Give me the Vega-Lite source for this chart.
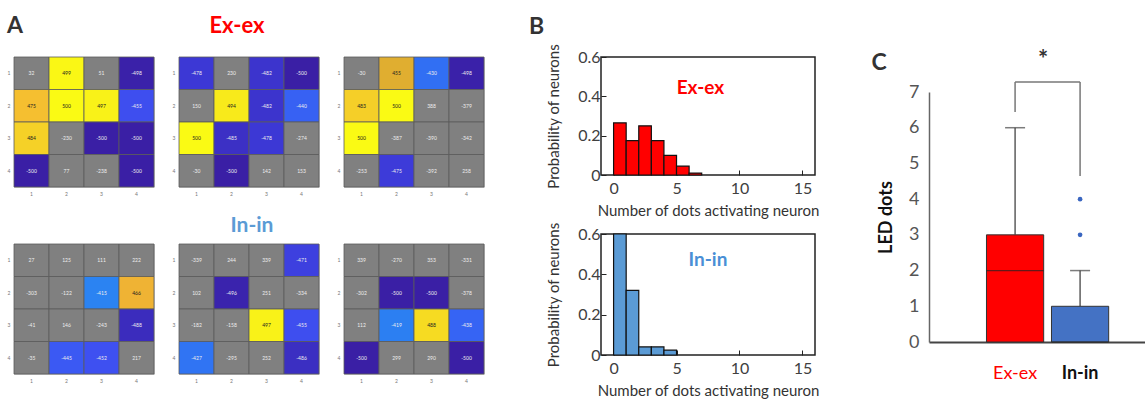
{
  "$schema": "https://vega.github.io/schema/vega-lite/v6.json",
  "padding": {"left": 6, "top": 14, "right": 0, "bottom": 0},
  "config": {"font": "Lato", "view": {"stroke": null}},
  "datasets": {
    "heat": [
      {"m":1,"r":1,"c":1,"v":32},{"m":1,"r":1,"c":2,"v":499},{"m":1,"r":1,"c":3,"v":51},{"m":1,"r":1,"c":4,"v":-498},
      {"m":1,"r":2,"c":1,"v":475},{"m":1,"r":2,"c":2,"v":500},{"m":1,"r":2,"c":3,"v":497},{"m":1,"r":2,"c":4,"v":-455},
      {"m":1,"r":3,"c":1,"v":484},{"m":1,"r":3,"c":2,"v":-230},{"m":1,"r":3,"c":3,"v":-500},{"m":1,"r":3,"c":4,"v":-500},
      {"m":1,"r":4,"c":1,"v":-500},{"m":1,"r":4,"c":2,"v":77},{"m":1,"r":4,"c":3,"v":-238},{"m":1,"r":4,"c":4,"v":-500},
      {"m":2,"r":1,"c":1,"v":-478},{"m":2,"r":1,"c":2,"v":230},{"m":2,"r":1,"c":3,"v":-482},{"m":2,"r":1,"c":4,"v":-500},
      {"m":2,"r":2,"c":1,"v":150},{"m":2,"r":2,"c":2,"v":494},{"m":2,"r":2,"c":3,"v":-482},{"m":2,"r":2,"c":4,"v":-440},
      {"m":2,"r":3,"c":1,"v":500},{"m":2,"r":3,"c":2,"v":-485},{"m":2,"r":3,"c":3,"v":-478},{"m":2,"r":3,"c":4,"v":-274},
      {"m":2,"r":4,"c":1,"v":-30},{"m":2,"r":4,"c":2,"v":-500},{"m":2,"r":4,"c":3,"v":142},{"m":2,"r":4,"c":4,"v":153},
      {"m":3,"r":1,"c":1,"v":-30},{"m":3,"r":1,"c":2,"v":455},{"m":3,"r":1,"c":3,"v":-430},{"m":3,"r":1,"c":4,"v":-498},
      {"m":3,"r":2,"c":1,"v":483},{"m":3,"r":2,"c":2,"v":500},{"m":3,"r":2,"c":3,"v":388},{"m":3,"r":2,"c":4,"v":-379},
      {"m":3,"r":3,"c":1,"v":500},{"m":3,"r":3,"c":2,"v":-387},{"m":3,"r":3,"c":3,"v":-390},{"m":3,"r":3,"c":4,"v":-342},
      {"m":3,"r":4,"c":1,"v":-253},{"m":3,"r":4,"c":2,"v":-475},{"m":3,"r":4,"c":3,"v":-392},{"m":3,"r":4,"c":4,"v":258},
      {"m":4,"r":1,"c":1,"v":27},{"m":4,"r":1,"c":2,"v":125},{"m":4,"r":1,"c":3,"v":111},{"m":4,"r":1,"c":4,"v":222},
      {"m":4,"r":2,"c":1,"v":-303},{"m":4,"r":2,"c":2,"v":-122},{"m":4,"r":2,"c":3,"v":-415},{"m":4,"r":2,"c":4,"v":466},
      {"m":4,"r":3,"c":1,"v":-41},{"m":4,"r":3,"c":2,"v":146},{"m":4,"r":3,"c":3,"v":-243},{"m":4,"r":3,"c":4,"v":-488},
      {"m":4,"r":4,"c":1,"v":-35},{"m":4,"r":4,"c":2,"v":-445},{"m":4,"r":4,"c":3,"v":-452},{"m":4,"r":4,"c":4,"v":217},
      {"m":5,"r":1,"c":1,"v":-339},{"m":5,"r":1,"c":2,"v":244},{"m":5,"r":1,"c":3,"v":339},{"m":5,"r":1,"c":4,"v":-471},
      {"m":5,"r":2,"c":1,"v":102},{"m":5,"r":2,"c":2,"v":-496},{"m":5,"r":2,"c":3,"v":251},{"m":5,"r":2,"c":4,"v":-334},
      {"m":5,"r":3,"c":1,"v":-182},{"m":5,"r":3,"c":2,"v":-158},{"m":5,"r":3,"c":3,"v":497},{"m":5,"r":3,"c":4,"v":-455},
      {"m":5,"r":4,"c":1,"v":-427},{"m":5,"r":4,"c":2,"v":-295},{"m":5,"r":4,"c":3,"v":252},{"m":5,"r":4,"c":4,"v":-486},
      {"m":6,"r":1,"c":1,"v":339},{"m":6,"r":1,"c":2,"v":-270},{"m":6,"r":1,"c":3,"v":353},{"m":6,"r":1,"c":4,"v":-331},
      {"m":6,"r":2,"c":1,"v":-302},{"m":6,"r":2,"c":2,"v":-500},{"m":6,"r":2,"c":3,"v":-500},{"m":6,"r":2,"c":4,"v":-378},
      {"m":6,"r":3,"c":1,"v":112},{"m":6,"r":3,"c":2,"v":-419},{"m":6,"r":3,"c":3,"v":488},{"m":6,"r":3,"c":4,"v":-438},
      {"m":6,"r":4,"c":1,"v":-500},{"m":6,"r":4,"c":2,"v":299},{"m":6,"r":4,"c":3,"v":290},{"m":6,"r":4,"c":4,"v":-500}
    ],
    "histEx": [
      {"b0":0,"b1":1,"p":0.265},{"b0":1,"b1":2,"p":0.175},{"b0":2,"b1":3,"p":0.25},{"b0":3,"b1":4,"p":0.175},
      {"b0":4,"b1":5,"p":0.1},{"b0":5,"b1":6,"p":0.045},{"b0":6,"b1":7,"p":0.01}
    ],
    "histIn": [
      {"b0":0,"b1":1,"p":0.6},{"b0":1,"b1":2,"p":0.32},{"b0":2,"b1":3,"p":0.04},{"b0":3,"b1":4,"p":0.04},{"b0":4,"b1":5,"p":0.024}
    ],
    "box": [
      {"g":"Ex-ex","q1":0,"med":2,"q3":3,"upper":6},
      {"g":"In-in","q1":0,"med":0,"q3":1,"upper":2}
    ],
    "outliers": [{"g":"In-in","v":3},{"g":"In-in","v":4}],
    "bracket": [
      {"g1":"Ex-ex","g2":"In-in","y1":7.28,"y2":7.28},
      {"g1":"Ex-ex","g2":"Ex-ex","y1":6.44,"y2":7.28},
      {"g1":"In-in","g2":"In-in","y1":4.65,"y2":7.28}
    ],
    "sig": [{"g":"Ex-ex","y":7.86,"label":"*"}]
  },
  "spacing": 43,
  "hconcat": [
    {
      "spacing": 17,
      "vconcat": [
        {
          "bounds": "flush",
          "spacing": 25,
          "hconcat": [
            {"title": {"text": "A", "anchor": "start", "fontSize": 23, "fontWeight": "bold", "color": "#333", "offset": 19},
             "width": 140, "height": 130, "view": {"stroke": "#ccc"}, "data": {"name": "heat"}, "transform": [{"filter": "datum.m == 1"}],
             "encoding": {"x": {"field": "c", "type": "ordinal", "axis": {"title": null, "ticks": false, "domain": false, "labelFontSize": 5, "labelColor": "#777", "labelPadding": 4, "labelAngle": 0}},
                          "y": {"field": "r", "type": "ordinal", "axis": {"title": null, "ticks": false, "domain": false, "labelFontSize": 5, "labelColor": "#777", "labelPadding": 4}}},
             "layer": [
               {"mark": {"type": "rect", "stroke": "#5a5a5a", "strokeWidth": 0.8},
                "encoding": {"color": {"field": "v", "type": "quantitative", "legend": null,
                  "scale": {"domain": [-500,-490,-480,-465,-450,-435,-420,-400,-399.9,399.9,400,455,470,485,500], "range": ["#3a1fa5","#3b2ab8","#3c36d2","#3e46e8","#3e52f2","#3468f4","#2c7ef2","#2890f0","#808080","#808080","#c89040","#e0ae30","#f5b535","#f5d326","#fafa14"], "interpolate": "rgb"}}}},
               {"mark": {"type": "text", "fontSize": 5},
                "encoding": {"text": {"field": "v"}, "color": {"condition": {"test": "datum.v > 400", "value": "#222"}, "value": "#eee"}}}
             ]},
            {"title": {"text": "Ex-ex", "fontSize": 22, "fontWeight": "bold", "color": "#ff0000", "offset": 19, "dx": -12},
             "width": 140, "height": 130, "view": {"stroke": "#ccc"}, "data": {"name": "heat"}, "transform": [{"filter": "datum.m == 2"}],
             "encoding": {"x": {"field": "c", "type": "ordinal", "axis": {"title": null, "ticks": false, "domain": false, "labelFontSize": 5, "labelColor": "#777", "labelPadding": 4, "labelAngle": 0}},
                          "y": {"field": "r", "type": "ordinal", "axis": {"title": null, "ticks": false, "domain": false, "labelFontSize": 5, "labelColor": "#777", "labelPadding": 4}}},
             "layer": [
               {"mark": {"type": "rect", "stroke": "#5a5a5a", "strokeWidth": 0.8},
                "encoding": {"color": {"field": "v", "type": "quantitative", "legend": null,
                  "scale": {"domain": [-500,-490,-480,-465,-450,-435,-420,-400,-399.9,399.9,400,455,470,485,500], "range": ["#3a1fa5","#3b2ab8","#3c36d2","#3e46e8","#3e52f2","#3468f4","#2c7ef2","#2890f0","#808080","#808080","#c89040","#e0ae30","#f5b535","#f5d326","#fafa14"], "interpolate": "rgb"}}}},
               {"mark": {"type": "text", "fontSize": 5},
                "encoding": {"text": {"field": "v"}, "color": {"condition": {"test": "datum.v > 400", "value": "#222"}, "value": "#eee"}}}
             ]},
            {"width": 140, "height": 130, "view": {"stroke": "#ccc"}, "data": {"name": "heat"}, "transform": [{"filter": "datum.m == 3"}],
             "encoding": {"x": {"field": "c", "type": "ordinal", "axis": {"title": null, "ticks": false, "domain": false, "labelFontSize": 5, "labelColor": "#777", "labelPadding": 4, "labelAngle": 0}},
                          "y": {"field": "r", "type": "ordinal", "axis": {"title": null, "ticks": false, "domain": false, "labelFontSize": 5, "labelColor": "#777", "labelPadding": 4}}},
             "layer": [
               {"mark": {"type": "rect", "stroke": "#5a5a5a", "strokeWidth": 0.8},
                "encoding": {"color": {"field": "v", "type": "quantitative", "legend": null,
                  "scale": {"domain": [-500,-490,-480,-465,-450,-435,-420,-400,-399.9,399.9,400,455,470,485,500], "range": ["#3a1fa5","#3b2ab8","#3c36d2","#3e46e8","#3e52f2","#3468f4","#2c7ef2","#2890f0","#808080","#808080","#c89040","#e0ae30","#f5b535","#f5d326","#fafa14"], "interpolate": "rgb"}}}},
               {"mark": {"type": "text", "fontSize": 5},
                "encoding": {"text": {"field": "v"}, "color": {"condition": {"test": "datum.v > 400", "value": "#222"}, "value": "#eee"}}}
             ]}
          ]
        },
        {
          "bounds": "flush",
          "spacing": 25,
          "hconcat": [
            {"width": 140, "height": 130, "view": {"stroke": "#ccc"}, "data": {"name": "heat"}, "transform": [{"filter": "datum.m == 4"}],
             "encoding": {"x": {"field": "c", "type": "ordinal", "axis": {"title": null, "ticks": false, "domain": false, "labelFontSize": 5, "labelColor": "#777", "labelPadding": 4, "labelAngle": 0}},
                          "y": {"field": "r", "type": "ordinal", "axis": {"title": null, "ticks": false, "domain": false, "labelFontSize": 5, "labelColor": "#777", "labelPadding": 4}}},
             "layer": [
               {"mark": {"type": "rect", "stroke": "#5a5a5a", "strokeWidth": 0.8},
                "encoding": {"color": {"field": "v", "type": "quantitative", "legend": null,
                  "scale": {"domain": [-500,-490,-480,-465,-450,-435,-420,-400,-399.9,399.9,400,455,470,485,500], "range": ["#3a1fa5","#3b2ab8","#3c36d2","#3e46e8","#3e52f2","#3468f4","#2c7ef2","#2890f0","#808080","#808080","#c89040","#e0ae30","#f5b535","#f5d326","#fafa14"], "interpolate": "rgb"}}}},
               {"mark": {"type": "text", "fontSize": 5},
                "encoding": {"text": {"field": "v"}, "color": {"condition": {"test": "datum.v > 400", "value": "#222"}, "value": "#eee"}}}
             ]},
            {"title": {"text": "In-in", "fontSize": 21, "fontWeight": "bold", "color": "#5b9bd5", "offset": 8, "dx": 3},
             "width": 140, "height": 130, "view": {"stroke": "#ccc"}, "data": {"name": "heat"}, "transform": [{"filter": "datum.m == 5"}],
             "encoding": {"x": {"field": "c", "type": "ordinal", "axis": {"title": null, "ticks": false, "domain": false, "labelFontSize": 5, "labelColor": "#777", "labelPadding": 4, "labelAngle": 0}},
                          "y": {"field": "r", "type": "ordinal", "axis": {"title": null, "ticks": false, "domain": false, "labelFontSize": 5, "labelColor": "#777", "labelPadding": 4}}},
             "layer": [
               {"mark": {"type": "rect", "stroke": "#5a5a5a", "strokeWidth": 0.8},
                "encoding": {"color": {"field": "v", "type": "quantitative", "legend": null,
                  "scale": {"domain": [-500,-490,-480,-465,-450,-435,-420,-400,-399.9,399.9,400,455,470,485,500], "range": ["#3a1fa5","#3b2ab8","#3c36d2","#3e46e8","#3e52f2","#3468f4","#2c7ef2","#2890f0","#808080","#808080","#c89040","#e0ae30","#f5b535","#f5d326","#fafa14"], "interpolate": "rgb"}}}},
               {"mark": {"type": "text", "fontSize": 5},
                "encoding": {"text": {"field": "v"}, "color": {"condition": {"test": "datum.v > 400", "value": "#222"}, "value": "#eee"}}}
             ]},
            {"width": 140, "height": 130, "view": {"stroke": "#ccc"}, "data": {"name": "heat"}, "transform": [{"filter": "datum.m == 6"}],
             "encoding": {"x": {"field": "c", "type": "ordinal", "axis": {"title": null, "ticks": false, "domain": false, "labelFontSize": 5, "labelColor": "#777", "labelPadding": 4, "labelAngle": 0}},
                          "y": {"field": "r", "type": "ordinal", "axis": {"title": null, "ticks": false, "domain": false, "labelFontSize": 5, "labelColor": "#777", "labelPadding": 4}}},
             "layer": [
               {"mark": {"type": "rect", "stroke": "#5a5a5a", "strokeWidth": 0.8},
                "encoding": {"color": {"field": "v", "type": "quantitative", "legend": null,
                  "scale": {"domain": [-500,-490,-480,-465,-450,-435,-420,-400,-399.9,399.9,400,455,470,485,500], "range": ["#3a1fa5","#3b2ab8","#3c36d2","#3e46e8","#3e52f2","#3468f4","#2c7ef2","#2890f0","#808080","#808080","#c89040","#e0ae30","#f5b535","#f5d326","#fafa14"], "interpolate": "rgb"}}}},
               {"mark": {"type": "text", "fontSize": 5},
                "encoding": {"text": {"field": "v"}, "color": {"condition": {"test": "datum.v > 400", "value": "#222"}, "value": "#eee"}}}
             ]}
          ]
        }
      ]
    },
    {
      "spacing": 51,
      "hconcat": [
        {
          "title": {"text": "B", "anchor": "start", "fontSize": 23, "fontWeight": "bold", "color": "#333", "offset": 4, "dx": -17},
          "spacing": 2,
          "vconcat": [
            {
              "width": 214, "height": 118,
              "view": {"stroke": "#222", "strokeWidth": 1.5},
              "layer": [
                {"data": {"name": "histEx"},
                 "mark": {"type": "bar", "fill": "#ff0000", "stroke": "#111", "strokeWidth": 1.2},
                 "encoding": {
                   "x": {"field": "b0", "type": "quantitative", "scale": {"domain": [-1, 16], "nice": false},
                         "axis": {"values": [0, 5, 10, 15], "labelOverlap": false, "title": "Number of dots activating neuron", "titleFontSize": 15, "titleFontWeight": "normal", "titleColor": "#333", "labelFontSize": 16, "labelColor": "#404040", "tickSize": -5, "tickColor": "#222", "domain": false, "grid": false, "labelPadding": 10, "titlePadding": 7}},
                   "x2": {"field": "b1"},
                   "y": {"field": "p", "type": "quantitative", "scale": {"domain": [0, 0.6], "nice": false},
                         "axis": {"values": [0, 0.2, 0.4, 0.6], "labelOverlap": false, "labelExpr": "datum.value == 0 ? '0' : format(datum.value, '.1f')", "title": "Probability of neurons", "titleFontSize": 15, "titleFontWeight": "normal", "titleColor": "#333", "labelFontSize": 16, "labelColor": "#404040", "tickSize": -5, "tickColor": "#222", "domain": false, "grid": false, "labelPadding": 6, "titlePadding": 16}},
                   "y2": {"datum": 0}
                 }},
                {"data": {"values": [{"label": "Ex-ex", "x": 6.9, "y": 0.44}]},
                 "mark": {"type": "text", "fontSize": 19, "fontWeight": "bold", "color": "#ff0000"},
                 "encoding": {
                   "x": {"field": "x", "type": "quantitative",
                         "axis": {"values": [0, 5, 10, 15], "labelOverlap": false, "title": "Number of dots activating neuron", "titleFontSize": 15, "titleFontWeight": "normal", "titleColor": "#333", "labelFontSize": 16, "labelColor": "#404040", "tickSize": -5, "tickColor": "#222", "domain": false, "grid": false, "labelPadding": 10, "titlePadding": 7}},
                   "y": {"field": "y", "type": "quantitative",
                         "axis": {"values": [0, 0.2, 0.4, 0.6], "labelOverlap": false, "labelExpr": "datum.value == 0 ? '0' : format(datum.value, '.1f')", "title": "Probability of neurons", "titleFontSize": 15, "titleFontWeight": "normal", "titleColor": "#333", "labelFontSize": 16, "labelColor": "#404040", "tickSize": -5, "tickColor": "#222", "domain": false, "grid": false, "labelPadding": 6, "titlePadding": 16}},
                   "text": {"field": "label"}}}
              ]
            },
            {
              "width": 214, "height": 121,
              "view": {"stroke": "#222", "strokeWidth": 1.5},
              "layer": [
                {"data": {"name": "histIn"},
                 "mark": {"type": "bar", "fill": "#5b9bd5", "stroke": "#111", "strokeWidth": 1.2},
                 "encoding": {
                   "x": {"field": "b0", "type": "quantitative", "scale": {"domain": [-1, 16], "nice": false},
                         "axis": {"values": [0, 5, 10, 15], "labelOverlap": false, "title": "Number of dots activating neuron", "titleFontSize": 15, "titleFontWeight": "normal", "titleColor": "#333", "labelFontSize": 16, "labelColor": "#404040", "tickSize": -5, "tickColor": "#222", "domain": false, "grid": false, "labelPadding": 10, "titlePadding": 7}},
                   "x2": {"field": "b1"},
                   "y": {"field": "p", "type": "quantitative", "scale": {"domain": [0, 0.6], "nice": false},
                         "axis": {"values": [0, 0.2, 0.4, 0.6], "labelOverlap": false, "labelExpr": "datum.value == 0 ? '0' : format(datum.value, '.1f')", "title": "Probability of neurons", "titleFontSize": 15, "titleFontWeight": "normal", "titleColor": "#333", "labelFontSize": 16, "labelColor": "#404040", "tickSize": -5, "tickColor": "#222", "domain": false, "grid": false, "labelPadding": 6, "titlePadding": 16}},
                   "y2": {"datum": 0}
                 }},
                {"data": {"values": [{"label": "In-in", "x": 7.5, "y": 0.47}]},
                 "mark": {"type": "text", "fontSize": 19, "fontWeight": "bold", "color": "#4a8fd6"},
                 "encoding": {
                   "x": {"field": "x", "type": "quantitative",
                         "axis": {"values": [0, 5, 10, 15], "labelOverlap": false, "title": "Number of dots activating neuron", "titleFontSize": 15, "titleFontWeight": "normal", "titleColor": "#333", "labelFontSize": 16, "labelColor": "#404040", "tickSize": -5, "tickColor": "#222", "domain": false, "grid": false, "labelPadding": 10, "titlePadding": 7}},
                   "y": {"field": "y", "type": "quantitative",
                         "axis": {"values": [0, 0.2, 0.4, 0.6], "labelOverlap": false, "labelExpr": "datum.value == 0 ? '0' : format(datum.value, '.1f')", "title": "Probability of neurons", "titleFontSize": 15, "titleFontWeight": "normal", "titleColor": "#333", "labelFontSize": 16, "labelColor": "#404040", "tickSize": -5, "tickColor": "#222", "domain": false, "grid": false, "labelPadding": 6, "titlePadding": 16}},
                   "text": {"field": "label"}}}
              ]
            }
          ]
        },
        {
          "bounds": "flush",
          "spacing": 0,
          "resolve": {"scale": {"x": "shared"}},
          "vconcat": [
            {
              "width": 218, "height": 35,
              "layer": [
                {"data": {"name": "bracket"},
                 "mark": {"type": "rule", "color": "#777", "strokeWidth": 1.5},
                 "encoding": {"x": {"field": "g1", "type": "nominal", "scale": {"domain": ["Ex-ex", "In-in"], "paddingInner": 0.12, "paddingOuter": 0.737, "align": 0.6}, "axis": null},
                              "x2": {"field": "g2"},
                              "y": {"field": "y1", "type": "quantitative", "scale": {"domain": [7, 7.98], "nice": false, "zero": false}, "axis": null},
                              "y2": {"field": "y2"}}},
                {"data": {"name": "sig"},
                 "mark": {"type": "text", "fontSize": 24, "fontWeight": "bold", "color": "#333", "dx": 28},
                 "encoding": {"x": {"field": "g", "type": "nominal", "axis": null}, "y": {"field": "y", "type": "quantitative", "axis": null}, "text": {"field": "label"}}}
              ]
            },
            {
              "title": {"text": "C", "anchor": "start", "fontSize": 23, "fontWeight": "bold", "color": "#333", "offset": 8, "dx": -6},
              "width": 218, "height": 250,
              "encoding": {
                "x": {"type": "nominal", "scale": {"domain": ["Ex-ex", "In-in"], "paddingInner": 0.12, "paddingOuter": 0.737, "align": 0.6},
                      "axis": {"title": null, "labelAngle": 0, "ticks": false, "domainColor": "#444", "domainWidth": 2, "labelFontSize": 18, "labelPadding": 22,
                               "labelColor": {"condition": {"test": "datum.value == 'Ex-ex'", "value": "#ff0000"}, "value": "#111"},
                               "labelFontWeight": {"condition": {"test": "datum.value == 'In-in'", "value": "bold"}, "value": "normal"}}}
              },
              "layer": [
                {"data": {"name": "box"},
                 "mark": {"type": "rule", "color": "#444", "strokeWidth": 1.3},
                 "encoding": {"x": {"field": "g", "type": "nominal"},
                              "y": {"field": "q3", "type": "quantitative", "scale": {"domain": [0, 7], "nice": false},
                                    "axis": {"values": [0,1,2,3,4,5,6,7], "labelOverlap": false, "ticks": false, "domainColor": "#666", "domainWidth": 1.5, "labelFontSize": 18, "labelColor": "#555", "labelPadding": 10, "title": "LED dots", "titleFontSize": 18, "titleFontWeight": "bold", "titleColor": "#111", "titlePadding": 13, "grid": false}},
                              "y2": {"field": "upper"}}},
                {"data": {"name": "box"},
                 "mark": {"type": "tick", "color": "#444", "thickness": 1.5, "size": 20},
                 "encoding": {"x": {"field": "g", "type": "nominal"},
                              "y": {"field": "upper", "type": "quantitative",
                                    "axis": {"values": [0,1,2,3,4,5,6,7], "labelOverlap": false, "ticks": false, "domainColor": "#666", "domainWidth": 1.5, "labelFontSize": 18, "labelColor": "#555", "labelPadding": 10, "title": "LED dots", "titleFontSize": 18, "titleFontWeight": "bold", "titleColor": "#111", "titlePadding": 13, "grid": false}}}},
                {"data": {"name": "box"},
                 "mark": {"type": "bar", "stroke": "#333", "strokeWidth": 1},
                 "encoding": {"x": {"field": "g", "type": "nominal"},
                              "y": {"field": "q1", "type": "quantitative",
                                    "axis": {"values": [0,1,2,3,4,5,6,7], "labelOverlap": false, "ticks": false, "domainColor": "#666", "domainWidth": 1.5, "labelFontSize": 18, "labelColor": "#555", "labelPadding": 10, "title": "LED dots", "titleFontSize": 18, "titleFontWeight": "bold", "titleColor": "#111", "titlePadding": 13, "grid": false}},
                              "y2": {"field": "q3"},
                              "color": {"field": "g", "type": "nominal", "scale": {"domain": ["Ex-ex", "In-in"], "range": ["#ff0000", "#4472c4"]}, "legend": null}}},
                {"data": {"name": "box"},
                 "mark": {"type": "tick", "color": "#222", "thickness": 1.2, "size": 57},
                 "encoding": {"x": {"field": "g", "type": "nominal"},
                              "y": {"field": "med", "type": "quantitative",
                                    "axis": {"values": [0,1,2,3,4,5,6,7], "labelOverlap": false, "ticks": false, "domainColor": "#666", "domainWidth": 1.5, "labelFontSize": 18, "labelColor": "#555", "labelPadding": 10, "title": "LED dots", "titleFontSize": 18, "titleFontWeight": "bold", "titleColor": "#111", "titlePadding": 13, "grid": false}}}},
                {"data": {"name": "outliers"},
                 "mark": {"type": "point", "filled": true, "size": 22, "color": "#3a66c0", "opacity": 1},
                 "encoding": {"x": {"field": "g", "type": "nominal"},
                              "y": {"field": "v", "type": "quantitative",
                                    "axis": {"values": [0,1,2,3,4,5,6,7], "labelOverlap": false, "ticks": false, "domainColor": "#666", "domainWidth": 1.5, "labelFontSize": 18, "labelColor": "#555", "labelPadding": 10, "title": "LED dots", "titleFontSize": 18, "titleFontWeight": "bold", "titleColor": "#111", "titlePadding": 13, "grid": false}}}}
              ]
            }
          ]
        }
      ]
    }
  ]
}
